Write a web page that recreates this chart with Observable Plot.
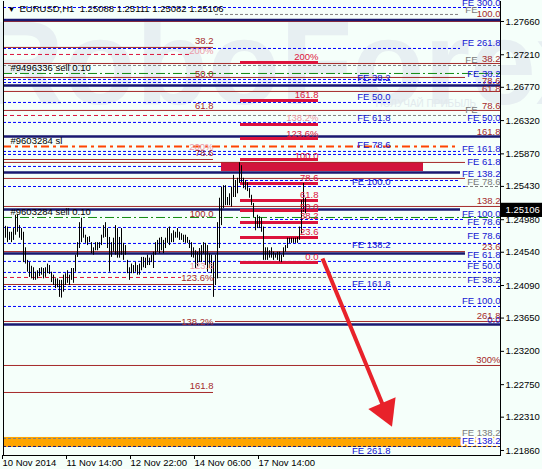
<!DOCTYPE html>
<html>
<head>
<meta charset="utf-8">
<script src="https://cdn.jsdelivr.net/npm/d3@7"></script>
<script src="https://cdn.jsdelivr.net/npm/@observablehq/plot@0.6"></script>
<style>
  html, body { margin: 0; padding: 0; background: #f5fffa; }
  #chart svg { display: block; }
</style>
</head>
<body>
<div id="chart"></div>
<script>
// EURUSD H1 — hourly bars (high / low), 10–17 Nov 2014
const barHigh = [
  1.2488,1.2489,1.2488,1.2481,1.2481,1.2486,1.2504,1.2504,1.2490,1.2486,
  1.2481,1.2460,1.2443,1.2440,1.2435,1.2433,1.2427,1.2429,1.2432,1.2433,
  1.2432,1.2433,1.2438,1.2436,1.2427,1.2423,1.2418,1.2418,1.2416,1.2416,
  1.2423,1.2425,1.2429,1.2423,1.2432,1.2432,1.2450,1.2467,1.2494,1.2500,
  1.2486,1.2477,1.2474,1.2475,1.2467,1.2460,1.2467,1.2467,1.2467,1.2477,
  1.2490,1.2494,1.2486,1.2474,1.2467,1.2473,1.2490,1.2486,1.2474,1.2486,
  1.2466,1.2463,1.2443,1.2433,1.2438,1.2436,1.2440,1.2436,1.2438,1.2447,
  1.2447,1.2446,1.2450,1.2446,1.2450,1.2454,1.2467,1.2470,1.2473,1.2474,
  1.2470,1.2473,1.2486,1.2488,1.2479,1.2483,1.2481,1.2486,1.2481,1.2479,
  1.2477,1.2477,1.2474,1.2470,1.2467,1.2460,1.2456,1.2454,1.2459,1.2463,
  1.2467,1.2466,1.2463,1.2452,1.2450,1.2440,1.2450,1.2494,1.2527,1.2542,
  1.2544,1.2544,1.2528,1.2533,1.2542,1.2558,1.2551,1.2554,1.2575,1.2571,
  1.2554,1.2551,1.2548,1.2540,1.2531,1.2520,1.2501,1.2504,1.2502,1.2500,
  1.2488,1.2460,1.2460,1.2456,1.2460,1.2454,1.2452,1.2454,1.2454,1.2450,
  1.2460,1.2463,1.2473,1.2473,1.2473,1.2473,1.2473,1.2474,1.2488,1.2524,
  1.2547,1.2527
];
const barLow = [
  1.2477,1.2473,1.2467,1.2470,1.2467,1.2470,1.2477,1.2481,1.2473,1.2470,
  1.2440,1.2438,1.2427,1.2420,1.2418,1.2416,1.2416,1.2418,1.2421,1.2423,
  1.2418,1.2420,1.2425,1.2424,1.2413,1.2409,1.2405,1.2406,1.2393,1.2392,
  1.2400,1.2409,1.2412,1.2409,1.2416,1.2412,1.2427,1.2447,1.2459,1.2467,
  1.2473,1.2466,1.2463,1.2467,1.2452,1.2450,1.2456,1.2456,1.2459,1.2463,
  1.2473,1.2474,1.2459,1.2427,1.2447,1.2454,1.2450,1.2446,1.2446,1.2450,
  1.2443,1.2450,1.2425,1.2416,1.2425,1.2425,1.2427,1.2423,1.2423,1.2429,
  1.2433,1.2432,1.2436,1.2436,1.2440,1.2432,1.2450,1.2454,1.2452,1.2456,
  1.2452,1.2459,1.2466,1.2463,1.2467,1.2467,1.2473,1.2473,1.2470,1.2470,
  1.2467,1.2466,1.2466,1.2459,1.2447,1.2446,1.2432,1.2435,1.2440,1.2440,
  1.2452,1.2436,1.2427,1.2432,1.2425,1.2393,1.2409,1.2418,1.2459,1.2490,
  1.2513,1.2517,1.2517,1.2517,1.2515,1.2528,1.2528,1.2533,1.2547,1.2548,
  1.2540,1.2538,1.2536,1.2527,1.2517,1.2501,1.2483,1.2486,1.2486,1.2481,
  1.2443,1.2443,1.2443,1.2446,1.2446,1.2443,1.2446,1.2443,1.2441,1.2440,
  1.2447,1.2454,1.2459,1.2466,1.2466,1.2466,1.2466,1.2466,1.2470,1.2479,
  1.2508,1.2506
];
const lastPrice = 1.25106;
const header = "EURUSD,H1  1.25088 1.25111 1.25082 1.25106";

// time axis: bar index of each label
const timeTicks = [0, 32, 64, 96, 128];
const timeLabels = ["10 Nov 2014", "11 Nov 14:00", "12 Nov 22:00", "14 Nov 06:00", "17 Nov 14:00"];
const priceTicks = [1.27660, 1.27210, 1.26770, 1.26320, 1.25870, 1.25430, 1.24980,
                    1.24540, 1.24090, 1.23650, 1.23200, 1.22750, 1.22310, 1.21860];
const priceRange = [1.21792, 1.27930];
const barRange = [0, 248.5];

// horizontal levels: [price, from bar, to bar]
const orderLines = [
  [1.27680, 0, 248.5], [1.26795, 0, 248.5], [1.26105, 0, 248.5], [1.25619, 0, 228.5],
  [1.25118, 0, 228.5], [1.24523, 0, 231], [1.23564, 0, 248.5]
];
const fiboLines = [
  [1.27660, 0, 248.5], [1.27309, 0, 105], [1.27092, 0, 248.5], [1.26903, 0, 231],
  [1.26714, 0, 248.5], [1.26457, 0, 248.5], [1.25794, 0, 105], [1.25754, 0, 231],
  [1.25538, 0, 231], [1.25159, 0, 248.5], [1.24549, 0, 231], [1.24104, 0, 105],
  [1.23604, 0, 89], [1.23604, 106, 248.5], [1.23009, 0, 248.5], [1.22644, 0, 105]
];
const expansionLines = [
  [1.27849, 0, 248.5], [1.27295, 0, 228.5], [1.26876, 0, 193.5], [1.26835, 0, 248.5],
  [1.26565, 0, 193.5], [1.26295, 0, 248.5], [1.25903, 0, 228.5], [1.25862, 0, 248.5],
  [1.25700, 0, 109], [1.25510, 118.5, 228.5], [1.25429, 0, 231], [1.24983, 133.5, 231],
  [1.24875, 0, 248.5], [1.24659, 0, 248.5], [1.24416, 0, 248.5], [1.24267, 0, 248.5],
  [1.24077, 0, 248.5], [1.24037, 0, 193.5], [1.23807, 0, 248.5]
];
const grayLines = [
  [1.27755, 106, 228.5], [1.27065, 0, 248.5], [1.26389, 105, 248.5],
  [1.25429, 231, 248.5], [1.24199, 105, 248.5], [1.22022, 0, 248.5]
];
const percentLines = [[1.27214, 0, 93.5], [1.26389, 0, 105], [1.24199, 0, 89]];
const stopLines = [[1.26957, 0, 248.5], [1.25010, 0, 248.5]];
const targetLine = [[1.25970, 0, 226]];
const targetBandEdge = [[1.21914, 0, 248.5]];
const targetBand = [{from: 0, to: 248.5, lo: 1.21901, hi: 1.22036}];
const resistanceZone = [{from: 109, to: 210, lo: 1.25632, hi: 1.25754}];

// Fibonacci expansion of the last swing (segments)
const swingLevels = [1.27106, 1.26592, 1.26268, 1.26078, 1.25794, 1.25470,
                     1.25240, 1.25105, 1.24943, 1.24740, 1.24402];
const swingSpan = [118.5, 157.5];
const swingLabels = [
  ["200%", 1.27187], ["161.8", 1.26660], ["123.6%", 1.26146], ["100.0", 1.25848],
  ["78.6", 1.25538], ["61.8", 1.25321], ["50.0", 1.25159], ["38.2", 1.25024],
  ["23.6", 1.24808], ["0.0", 1.24483]
];
const swingFaint = [["138.2%", 1.26349]];

// labels by column
const feRight = [
  ["FE 300.0", 1.27917], ["FE 261.8", 1.27363], ["FE 38.2", 1.26957], ["FE 50.0", 1.26362],
  ["FE 161.8", 1.25943], ["FE 61.8", 1.25767], ["FE 138.2", 1.25605], ["FE 100.0", 1.25064],
  ["FE 78.6", 1.24956], ["FE 78.6", 1.24754], ["FE 61.8", 1.24509], ["FE 50.0", 1.24348],
  ["FE 38.2", 1.24172], ["FE 100.0", 1.23875], ["0.0", 1.23618]
];
const feBoxed = [["FE 138.2", 1.21995]];
const feMiddle = [
  ["FE 38.2", 1.26903], ["FE 50.0", 1.26633], ["FE 61.8", 1.26362], ["FE 78.6", 1.25984],
  ["FE 100.0", 1.25497], ["FE 138.2", 1.24645], ["FE 161.8", 1.24118], ["FE 261.8", 1.21860]
];
const grayRight = [["FE 78.6", 1.25497], ["FE 138.2", 1.22103]];
const grayPrefix = [["FE", 1.27822], ["FE", 1.27133], ["FE", 1.26470]];
const fiboRight = [
  ["100.0", 1.27755], ["38.2", 1.27160], ["78.6", 1.26862], ["61.8", 1.26754],
  ["78.6", 1.26524], ["161.8", 1.26173], ["138.2", 1.25227], ["23.6", 1.24618],
  ["261.8", 1.23685], ["300%", 1.23090]
];
const fiboLeft = [
  ["38.2", 1.27390], ["50.0", 1.26957], ["61.8", 1.26513], ["78.6", 1.25876],
  ["100.0", 1.25064], ["161.8", 1.22739]
];
const fiboLeftOnLine = [["123.6%", 1.24199], ["138.2%", 1.23604]];
const fiboLeftFaint = [["200%", 1.27268], ["200%", 1.25957], ["123.6", 1.24348]];
const orders = [
  ["#9496336 sell 0.10", 1.27025], ["#9603284 sl", 1.26051], ["#9603284 sell 0.10", 1.25091]
];
// projected move
const arrowFrom = {bar: 159.5, price: 1.24456};
const arrowHead = {bar: 190.9, price: 1.22394};

const bars = barHigh.map((h, i) => ({i, h, l: barLow[i]}));
const font = "Liberation Sans, Arial, sans-serif";

const level = (rows, o) => Plot.ruleY(rows, {y: d => d[0], x1: d => d[1], x2: d => d[2], ...o});
const label = (rows, x, o) => Plot.text(rows, {x: () => x, y: d => d[1], text: d => d[0],
  textAnchor: "end", fontSize: 9.5, ...o});

const chart = Plot.plot({
  width: 542, height: 469,
  marginLeft: 3, marginRight: 42, marginTop: 1, marginBottom: 14,
  style: {background: "#f5fffa", fontFamily: font, fontSize: "9.5px", color: "#000"},
  x: {domain: barRange},
  y: {domain: priceRange},
  marks: [
    Plot.text(["RRoboForex"], {x: () => 122, y: () => 1.27052, fontSize: 118, fontWeight: "bold",
      fill: "#e7eff2", ariaLabel: "watermark"}),
    Plot.text(["ПОЛУЧАЙ ПРИБЫЛЬ"], {x: () => 186, y: () => 1.26551, fontSize: 10,
      textAnchor: "start", fill: "#e2eaed"}),
    Plot.rect(targetBand, {x1: "from", x2: "to", y1: "lo", y2: "hi", fill: "#ffa500"}),
    Plot.rect(resistanceZone, {x1: "from", x2: "to", y1: "lo", y2: "hi", fill: "#d2143c"}),
    level(expansionLines, {stroke: "#0000ff", strokeDasharray: "3,2"}),
    level(grayLines, {stroke: "#808080", strokeDasharray: "3,2"}),
    level(targetBandEdge, {stroke: "#1a1a80", strokeDasharray: "3,2"}),
    level(percentLines, {stroke: "#dc143c", strokeDasharray: "4,3"}),
    level(stopLines, {stroke: "#108a10", strokeDasharray: "9,3,2,3"}),
    level(targetLine, {stroke: "#ff4500", strokeWidth: 2, strokeDasharray: "8,4,3,4"}),
    level(fiboLines, {stroke: "#a52a2a"}),
    level(orderLines, {stroke: "#191970", strokeWidth: 2.5}),
    Plot.ruleY(swingLevels, {x1: swingSpan[0], x2: swingSpan[1], stroke: "#dc143c", strokeWidth: 3}),
    Plot.ruleX(bars, {x: "i", y1: "l", y2: "h", stroke: "#000", strokeWidth: 1}),
    Plot.link([0], {x1: () => arrowFrom.bar, y1: () => arrowFrom.price,
      x2: () => arrowHead.bar, y2: () => arrowHead.price, stroke: "#e8222a", strokeWidth: 4}),
    Plot.dot([0], {x: () => arrowHead.bar, y: () => arrowHead.price, symbol: "triangle",
      r: 11, rotate: 157, fill: "#e8222a", stroke: "none"}),
    label(swingLabels, swingSpan[1], {fill: "#dc143c"}),
    label(swingFaint, swingSpan[1], {fill: "#ec9aa8"}),
    label(fiboLeftFaint, 105, {fill: "#ec9aa8"}),
    label(feRight, 248.5, {fill: "#1414d2"}),
    label(feBoxed, 248.5, {fill: "#1414d2", stroke: "#ffffff", strokeWidth: 4}),
    label(feMiddle, 193.5, {fill: "#1414d2"}),
    label(grayRight, 248.5, {fill: "#7a7a7a"}),
    label(grayPrefix, 237, {fill: "#7a7a7a"}),
    label(fiboRight, 248.5, {fill: "#a52a2a"}),
    label(fiboLeft, 105, {fill: "#a52a2a"}),
    label(fiboLeftOnLine, 105, {fill: "#a52a2a"}),
    Plot.text(orders, {x: () => 3.5, y: d => d[1], text: d => d[0], textAnchor: "start",
      fontSize: 9.5, fill: "#000"}),
    Plot.text([header], {frameAnchor: "top-left", dx: 16, dy: 4, fontSize: 9.5, fill: "#000"}),
    Plot.text(["▼"], {frameAnchor: "top-left", dx: 4, dy: 5, fontSize: 8, fill: "#000"}),
    Plot.axisY({anchor: "right", ticks: priceTicks, tickFormat: d => d.toFixed(5),
      tickSize: 3, tickPadding: 2, fontSize: 9.5, label: null}),
    Plot.axisX({anchor: "bottom", ticks: timeTicks, tickFormat: (d, i) => timeLabels[i],
      tickSize: 4, tickPadding: 0, textAnchor: "start", dx: -1, fontSize: 9.5, label: null}),
    Plot.frame({anchor: "left"}),
    Plot.frame({anchor: "right"}),
    Plot.frame({anchor: "bottom"}),
    Plot.rect([lastPrice], {x1: () => 249, x2: () => 270, y1: d => d - 0.00096, y2: d => d + 0.00096,
      fill: "#000", clip: false}),
    Plot.text([lastPrice], {x: () => 251, y: d => d, text: d => d.toFixed(5), textAnchor: "start",
      fill: "#fff", fontSize: 9.5})
  ]
});

d3.select(chart).selectAll('g[aria-label="watermark"] text')
  .attr("textLength", 440).attr("lengthAdjust", "spacingAndGlyphs");
document.getElementById("chart").append(chart);
</script>
</body>
</html>
